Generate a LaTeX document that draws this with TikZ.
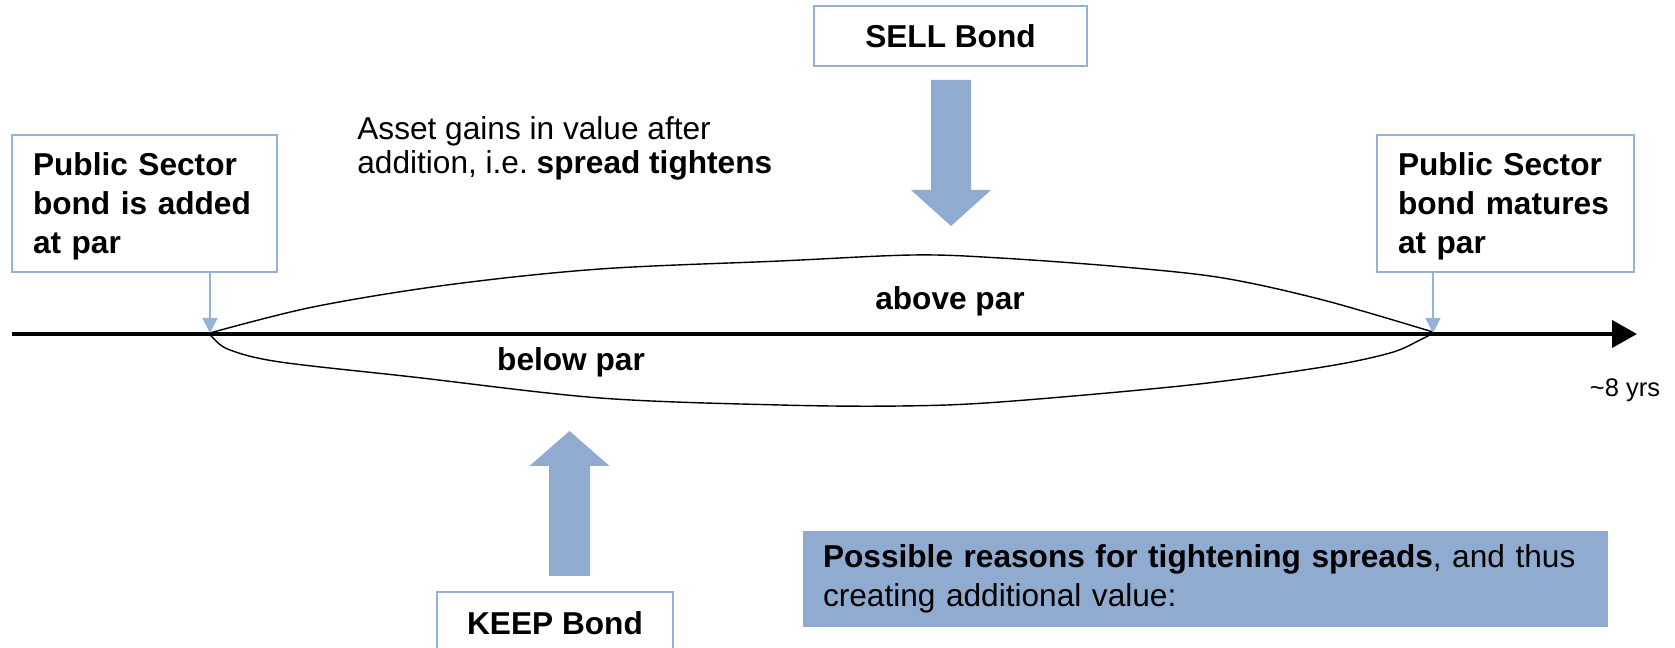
\documentclass[tikz,border=0pt]{standalone}
\usepackage{fontspec}
\setmainfont{Liberation Sans}
\usepackage{xcolor}
\usepackage{tikz}
\usetikzlibrary{positioning, arrows.meta}

\definecolor{boxblue}{RGB}{149,179,215}
\definecolor{fatblue}{RGB}{143,171,207}

\begin{document}
\begin{tikzpicture}[font=\fontsize{18}{21.9}\selectfont,
	notebox/.style={draw=boxblue, line width=1pt, fill=white, align=left, font=\bfseries\fontsize{18}{22.2}\selectfont, inner xsep=0.42cm},
	pointer/.style={draw=boxblue, line width=1pt, -{Triangle[length=0.3cm, width=0.3cm, fill=boxblue]}},
	fatarrow/.style={fill=fatblue}]
			\useasboundingbox (0,0) rectangle (33.5,12.96);

			% Time axis
			\coordinate (t0) at (0.24,6.28);
			\coordinate (tend) at (32.74,6.28);
			\draw[-{Triangle[length=0.5cm, width=0.54cm]}, line width=2.3pt] (t0) -- (tend);
			\node[font=\fontsize{14.5}{17}\selectfont] (yrs) at (32.5,5.16) {\textasciitilde 8 yrs};

			% Value over time
			\coordinate (added) at (4.2,6.3);
			\coordinate (matures) at (28.66,6.3);
			\draw[line width=0.8pt] plot[smooth, tension=0.55] coordinates {(4.2,6.3) (6.26,6.82) (8.94,7.26) (12.0,7.58) (15.6,7.74) (18.26,7.86) (20.0,7.80) (22.46,7.62) (24.46,7.40) (26.46,6.96) (28.66,6.32)};
			\draw[line width=0.8pt] plot[smooth, tension=0.55] coordinates {(4.2,6.3) (4.26,6.2) (4.6,5.96) (5.6,5.72) (8.26,5.42) (12.0,5.0) (15.6,4.86) (18.0,4.84) (20.0,4.92) (23.8,5.26) (26.46,5.62) (27.8,5.9) (28.4,6.16) (28.66,6.3)};
			\node[font=\bfseries\fontsize{18}{21.9}\selectfont] (above) at (19.0,6.94) {above par};
			\node[font=\bfseries\fontsize{18}{21.9}\selectfont] (below) at (11.42,5.72) {below par};

			% Start and end of the bond
			\node[notebox, minimum width=5.3cm, minimum height=2.74cm, text width=4.46cm] (addbox) at (2.89,8.89) {\rule{0pt}{0.58cm}Public Sector\\ bond is added\\ at par};
			\node[notebox, minimum width=5.14cm, minimum height=2.74cm, text width=4.3cm] (matbox) at (30.11,8.89) {\rule{0pt}{0.58cm}Public Sector\\ bond matures\\ at par};
			\draw[pointer] (addbox.south -| added) -- (added);
			\draw[pointer] (matbox.south -| matures) -- (matures);

			\node[anchor=north west, inner sep=0pt, align=left, font=\fontsize{18}{19.6}\selectfont] (gain) at (7.14,10.64) {Asset gains in value after\\ addition, i.e.\ \textbf{spread tightens}};

			% Sell or keep
			\node[notebox, minimum width=5.46cm, minimum height=1.2cm] (sell) at (19.01,12.24) {SELL Bond};
			\coordinate (sellarrow) at (19.02,11.36);
			\fill[fatarrow] (sellarrow) ++(-0.4,0) -- ++(0.8,0) -- ++(0,-2.2) -- ++(0.4,0) -- ++(-0.8,-0.72) -- ++(-0.8,0.72) -- ++(0.4,0) -- cycle;

			\node[notebox, minimum width=4.72cm, minimum height=1.24cm] (keep) at (11.1,0.5) {KEEP Bond};
			\coordinate (keeparrow) at (11.39,1.44);
			\fill[fatarrow] (keeparrow) ++(-0.41,0) -- ++(0.82,0) -- ++(0,2.2) -- ++(0.39,0) -- ++(-0.8,0.7) -- ++(-0.8,-0.7) -- ++(0.39,0) -- cycle;

			% Reasons
			\node[fill=fatblue, minimum width=16.1cm, minimum height=1.92cm, text width=15.3cm, align=left, font=\fontsize{18}{22}\selectfont] (reasons) at (24.11,1.38) {\textbf{Possible reasons for tightening spreads}, and thus\\ creating additional value:};
		\end{tikzpicture}
\end{document}
